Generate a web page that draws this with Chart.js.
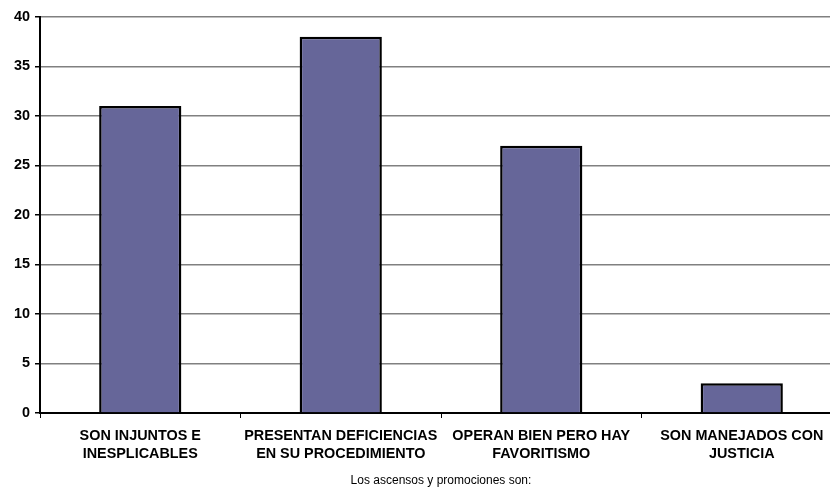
<!DOCTYPE html>
<html>
<head>
<meta charset="utf-8">
<script src="https://cdn.jsdelivr.net/npm/chart.js@4/dist/chart.umd.min.js"></script>
<style>
  html, body { margin: 0; padding: 0; background: #fff; overflow: hidden; }
  #wrap { position: relative; width: 860px; height: 487px; }
</style>
</head>
<body>
<div id="wrap"><canvas id="c"></canvas></div>
<script>
const categories = [
  ['SON INJUNTOS E', 'INESPLICABLES'],
  ['PRESENTAN DEFICIENCIAS', 'EN SU PROCEDIMIENTO'],
  ['OPERAN BIEN PERO HAY', 'FAVORITISMO'],
  ['SON MANEJADOS CON', 'JUSTICIA']
];
const values = [31, 38, 27, 3];
const yTicks = [0, 5, 10, 15, 20, 25, 30, 35, 40];
const axisTitle = 'Los ascensos y promociones son:';

const FONT = "'Liberation Sans', Arial, sans-serif";

new Chart(document.getElementById('c'), {
  type: 'bar',
  data: {
    labels: categories,
    datasets: [{
      data: values,
      backgroundColor: '#666699',
      borderColor: '#000000',
      borderWidth: 2.5,
      barPercentage: 0.41,
      categoryPercentage: 1.0
    }]
  },
  options: {
    responsive: true,
    maintainAspectRatio: false,
    animation: false,
    devicePixelRatio: 1,
    layout: { padding: { left: 0, right: 18, top: 17, bottom: 0 } },
    plugins: { legend: { display: false }, tooltip: { enabled: false } },
    scales: {
      x: {
        offset: true,
        grid: {
          offset: true,
          drawOnChartArea: false,
          drawTicks: true,
          tickLength: 5,
          tickColor: '#000000'
        },
        border: { color: '#000000', width: 2 },
        ticks: {
          color: '#000000',
          padding: 9,
          maxRotation: 0,
          autoSkip: false,
          font: { family: FONT, size: 14.4, weight: 'bold', lineHeight: 1.27 }
        },
        title: {
          display: true,
          text: axisTitle,
          color: '#000000',
          font: { family: FONT, size: 12, lineHeight: 1.0 },
          padding: { top: 2, bottom: 0 }
        },
        afterFit(scale) { scale.height = 74; }
      },
      y: {
        min: 0,
        max: 40,
        afterBuildTicks(scale) { scale.ticks = yTicks.map(v => ({ value: v })); },
        grid: {
          color: '#808080',
          lineWidth: 1.5,
          drawTicks: true,
          tickLength: 5,
          tickColor: '#000000'
        },
        border: { color: '#000000', width: 2 },
        ticks: {
          color: '#000000',
          padding: 5,
          font: { family: FONT, size: 14.4, weight: 'bold' }
        },
        afterFit(scale) { scale.width = 40; }
      }
    }
  }
});
</script>
</body>
</html>
